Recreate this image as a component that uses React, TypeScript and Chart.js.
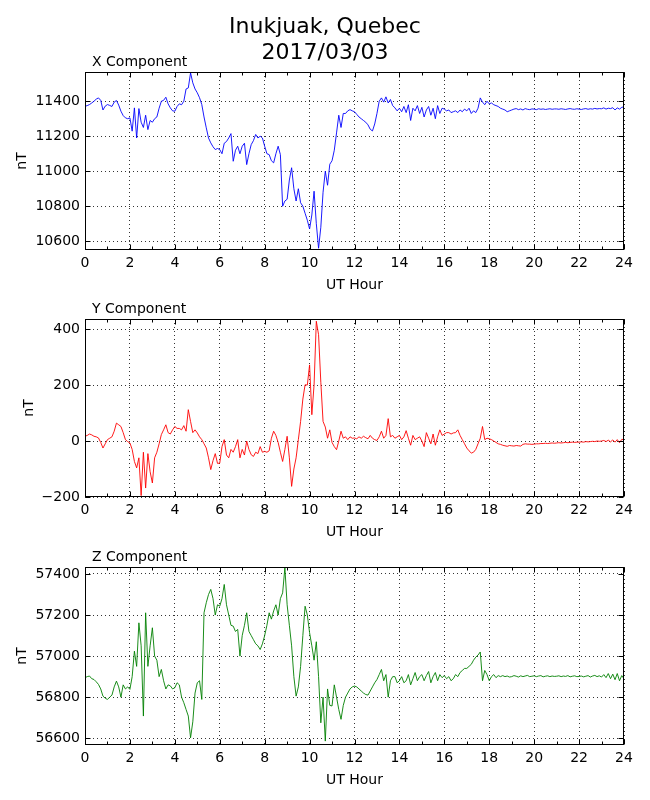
import { useEffect, useRef } from 'react';
import { Chart, registerables } from 'chart.js';

Chart.register(...registerables);
Chart.defaults.font.family = "'DejaVu Sans', sans-serif";
Chart.defaults.color = '#000';

// UT hour of each sample (6-minute steps)
const hours = [
  0, 0.1, 0.2, 0.3, 0.4, 0.5, 0.6, 0.7, 0.8, 0.9,
  1, 1.1, 1.2, 1.3, 1.4, 1.5, 1.6, 1.7, 1.8, 1.9,
  2, 2.1, 2.2, 2.3, 2.4, 2.5, 2.6, 2.7, 2.8, 2.9,
  3, 3.1, 3.2, 3.3, 3.4, 3.5, 3.6, 3.7, 3.8, 3.9,
  4, 4.1, 4.2, 4.3, 4.4, 4.5, 4.6, 4.7, 4.8, 4.9,
  5, 5.1, 5.2, 5.3, 5.4, 5.5, 5.6, 5.7, 5.8, 5.9,
  6, 6.1, 6.2, 6.3, 6.4, 6.5, 6.6, 6.7, 6.8, 6.9,
  7, 7.1, 7.2, 7.3, 7.4, 7.5, 7.6, 7.7, 7.8, 7.9,
  8, 8.1, 8.2, 8.3, 8.4, 8.5, 8.6, 8.7, 8.8, 8.9,
  9, 9.1, 9.2, 9.3, 9.4, 9.5, 9.6, 9.7, 9.8, 9.9,
  10, 10.1, 10.2, 10.3, 10.4, 10.5, 10.6, 10.7, 10.8, 10.9,
  11, 11.1, 11.2, 11.3, 11.4, 11.5, 11.6, 11.7, 11.8, 11.9,
  12, 12.1, 12.2, 12.3, 12.4, 12.5, 12.6, 12.7, 12.8, 12.9,
  13, 13.1, 13.2, 13.3, 13.4, 13.5, 13.6, 13.7, 13.8, 13.9,
  14, 14.1, 14.2, 14.3, 14.4, 14.5, 14.6, 14.7, 14.8, 14.9,
  15, 15.1, 15.2, 15.3, 15.4, 15.5, 15.6, 15.7, 15.8, 15.9,
  16, 16.1, 16.2, 16.3, 16.4, 16.5, 16.6, 16.7, 16.8, 16.9,
  17, 17.1, 17.2, 17.3, 17.4, 17.5, 17.6, 17.7, 17.8, 17.9,
  18, 18.1, 18.2, 18.3, 18.4, 18.5, 18.6, 18.7, 18.8, 18.9,
  19, 19.1, 19.2, 19.3, 19.4, 19.5, 19.6, 19.7, 19.8, 19.9,
  20, 20.1, 20.2, 20.3, 20.4, 20.5, 20.6, 20.7, 20.8, 20.9,
  21, 21.1, 21.2, 21.3, 21.4, 21.5, 21.6, 21.7, 21.8, 21.9,
  22, 22.1, 22.2, 22.3, 22.4, 22.5, 22.6, 22.7, 22.8, 22.9,
  23, 23.1, 23.2, 23.3, 23.4, 23.5, 23.6, 23.7, 23.8, 23.9,
  24,
];

const xComponent = [
  11371, 11375, 11381, 11390, 11400, 11412, 11419, 11405, 11350, 11372,
  11381, 11376, 11370, 11395, 11404, 11378, 11343, 11318, 11305, 11300,
  11305, 11229, 11362, 11190, 11358, 11280, 11250, 11320, 11238, 11290,
  11280, 11300, 11310, 11360, 11400, 11405, 11423, 11385, 11362, 11345,
  11343, 11370, 11385, 11380, 11400, 11470, 11476, 11562, 11505, 11470,
  11448, 11420, 11381, 11310, 11248, 11190, 11162, 11140, 11124, 11130,
  11124, 11100, 11160, 11170, 11190, 11215, 11057, 11120, 11143, 11100,
  11143, 11160, 11038, 11100, 11152, 11175, 11210, 11190, 11200, 11190,
  11143, 11100, 11095, 11060, 11048, 11100, 11143, 11095, 10800, 10830,
  10840, 10950, 11020, 10900, 10830, 10900, 10820, 10800, 10760, 10720,
  10670, 10750, 10886, 10700, 10560, 10680, 10880, 11000, 10920, 11040,
  11060, 11120, 11219, 11320, 11250, 11330, 11330, 11345, 11352, 11345,
  11340, 11325, 11310, 11300, 11290, 11280, 11265, 11240, 11230, 11270,
  11330, 11400, 11419, 11395, 11425, 11390, 11410, 11375, 11362, 11345,
  11360, 11340, 11370, 11335, 11380, 11290, 11360, 11345, 11375, 11330,
  11365, 11310, 11350, 11370, 11320, 11360, 11300, 11375, 11330, 11360,
  11355, 11345, 11350, 11335, 11340, 11345, 11335, 11350, 11340, 11355,
  11345, 11360, 11330, 11345, 11335, 11360, 11419, 11395, 11380, 11400,
  11385, 11390, 11380, 11375, 11370, 11360, 11355, 11350, 11340, 11345,
  11350, 11355, 11358, 11352, 11356, 11350, 11358, 11354, 11352, 11356,
  11355, 11352, 11357, 11354, 11356, 11353, 11355, 11357, 11354, 11356,
  11356, 11354, 11357, 11355, 11353, 11356, 11358, 11355, 11354, 11357,
  11355, 11353, 11356, 11358, 11354, 11357, 11355, 11359, 11356, 11358,
  11357, 11362, 11355, 11360, 11358, 11363, 11350, 11362, 11355, 11365,
  11368,
];

const yComponent = [
  17, 20, 25, 22, 17, 15, 11, -5, -25, -10,
  5, 10, 15, 35, 64, 58, 52, 30, 5, -2,
  -7, -30, -73, -96, -60, -195, -40, -168, -45, -110,
  -150, -60, -40, -10, 23, 40, 58, 30, 25, 40,
  52, 45, 45, 40, 55, 35, 112, 70, 30, 40,
  29, 15, 5, -10, -25, -60, -102, -70, -45, -80,
  -79, -20, 5, -50, -60, -30, -40, -20, 5, -60,
  -30, -50, 0, -30, -49, -55, -40, -45, -20, -40,
  -37, -40, -35, 10, 35, 20, -5, -40, -73, -30,
  17, -60, -162, -100, -60, 5, 70, 150, 201, 200,
  272, 94, 200, 428, 380, 210, 70, 50, 10, 40,
  -5, -20, -31, 0, 35, 10, 15, 5, 15, 10,
  11, 8, 15, 10, 17, 12, 8, 20, 10, 5,
  2, 15, 35, 10, 20, 80, 15, 20, 10, 15,
  20, 5, 15, 37, 10, -15, 20, 5, 10, 15,
  0, -20, 30, 10, -10, 25, -15, 15, 40, 20,
  25, 30, 30, 25, 29, 30, 40, 20, 5, -10,
  -25, -35, -43, -40, -30, -10, 10, 52, 5, 10,
  8, 5, 0, -5, -10, -12, -15, -17, -19, -16,
  -17, -18, -16, -17, -18, -12, -10, -11, -11, -12,
  -11, -10, -10, -9, -9, -8, -9, -8, -7, -8,
  -7, -6, -7, -6, -5, -6, -5, -4, -5, -4,
  -4, -3, -4, -2, -3, -2, -1, -2, 0, -1,
  0, 2, -2, 3, -3, 4, -4, 5, -6, 6,
  5,
];

const zComponent = [
  56895, 56900, 56903, 56890, 56886, 56875, 56862, 56840, 56805, 56795,
  56789, 56800, 56810, 56850, 56878, 56850, 56800, 56860, 56840, 56850,
  56838, 56900, 57024, 56950, 57162, 57050, 56708, 57211, 56950, 57050,
  57138, 57000, 56980, 56900, 56935, 56880, 56840, 56860, 56855, 56840,
  56846, 56870, 56860, 56800, 56773, 56740, 56708, 56602, 56680, 56820,
  56870, 56880, 56789, 57211, 57260, 57300, 57325, 57280, 57200, 57250,
  57243, 57280, 57349, 57250, 57200, 57150, 57146, 57120, 57130, 57000,
  57100, 57150, 57211, 57120, 57100, 57080, 57060, 57050, 57032, 57060,
  57100, 57150, 57211, 57180, 57220, 57250, 57200, 57280, 57308, 57430,
  57250, 57150, 57050, 56900, 56805, 56850, 56950, 57100, 57243, 57200,
  57114, 57050, 56980, 57070, 56900, 56675, 56800, 56586, 56840, 56760,
  56757, 56860, 56800, 56740, 56692, 56760, 56800, 56820, 56840, 56850,
  56854, 56850, 56840, 56830, 56820, 56813, 56810, 56830, 56850, 56870,
  56886, 56910, 56935, 56880, 56910, 56800, 56880, 56900, 56900, 56870,
  56880, 56900, 56870, 56880, 56910, 56860, 56890, 56920, 56880, 56900,
  56910, 56880, 56905, 56925, 56870, 56900, 56920, 56880, 56910, 56895,
  56905, 56890, 56900, 56880, 56890, 56910, 56900, 56920, 56930, 56940,
  56940, 56950, 56960, 56980, 56995, 57005, 57020, 56880, 56930, 56910,
  56880, 56900, 56910, 56895, 56905, 56900, 56905, 56900, 56903, 56898,
  56900, 56905, 56902, 56898, 56904, 56900, 56903, 56906, 56900, 56902,
  56904, 56900, 56903, 56905, 56899, 56902, 56904, 56900, 56903, 56901,
  56902, 56904, 56900, 56903, 56901, 56905, 56899, 56902, 56904, 56900,
  56901, 56903, 56899, 56902, 56905, 56898, 56903, 56906, 56900, 56904,
  56898, 56910, 56895, 56915, 56890, 56912, 56885, 56915, 56880, 56905,
  56890,
];

const hourTicks = [0, 2, 4, 6, 8, 10, 12, 14, 16, 18, 20, 22, 24];
const hourMinorTicks = [1, 3, 5, 7, 9, 11, 13, 15, 17, 19, 21, 23];
const xTicks = [10600, 10800, 11000, 11200, 11400];
const yTicks = [-200, 0, 200, 400];
const zTicks = [56600, 56800, 57000, 57200, 57400];

// axis limits (min / max of each trace)
const xLimits = [10550, 11567];
const yLimits = [-200, 436];
const zLimits = [56567, 57434];

const AREA_LEFT = 85;
const AREA_RIGHT = 624;
const AREA_HEIGHT = 178;
const HEAD = 30;
const FOOT = 50;
const TEXT = "'DejaVu Sans', sans-serif";

// box around the plot, inward tick marks, small panel title
const framePlugin = {
  id: 'frame',
  afterDraw(chart: any, _args: any, opts: any) {
    const { ctx, chartArea: a, scales } = chart;
    ctx.save();
    ctx.strokeStyle = '#000';
    ctx.lineWidth = 1;
    const l = Math.round(a.left) + 0.5;
    const t = Math.round(a.top) + 0.5;
    const r = Math.round(a.right) - 0.5;
    const b = Math.round(a.bottom) - 0.5;
    ctx.strokeRect(l, t, r - l, b - t);
    ctx.beginPath();
    const tickX = (vals: number[], len: number) => {
      vals.forEach((v) => {
        const px = Math.round(scales.x.getPixelForValue(v)) + 0.5;
        ctx.moveTo(px, b);
        ctx.lineTo(px, b - len);
        ctx.moveTo(px, t);
        ctx.lineTo(px, t + len);
      });
    };
    tickX(hourTicks, 5);
    tickX(hourMinorTicks, 3);
    (opts.ticks as number[]).forEach((v) => {
      const py = Math.round(scales.y.getPixelForValue(v)) + 0.5;
      ctx.moveTo(l, py);
      ctx.lineTo(l + 5, py);
      ctx.moveTo(r, py);
      ctx.lineTo(r - 5, py);
    });
    ctx.stroke();
    ctx.fillStyle = '#000';
    ctx.font = `14px ${TEXT}`;
    ctx.textAlign = 'left';
    ctx.textBaseline = 'alphabetic';
    ctx.fillText(opts.title, a.left + 7, a.top - 6);
    ctx.restore();
  },
};

interface PanelProps {
  title: string;
  values: number[];
  color: string;
  ticks: number[];
  limits: number[];
  top: number;
  labelPad: number;
}

function Panel({ title, values, color, ticks, limits, top, labelPad }: PanelProps) {
  const canvasRef = useRef<HTMLCanvasElement>(null);

  useEffect(() => {
    if (!canvasRef.current) return;
    const chart = new Chart(canvasRef.current, {
      type: 'line',
      data: {
        datasets: [
          {
            data: hours.map((h, i) => ({ x: h, y: values[i] })),
            borderColor: color,
            borderWidth: 0.9,
            pointRadius: 0,
            tension: 0,
            fill: false,
          },
        ],
      },
      plugins: [framePlugin],
      options: {
        animation: false,
        responsive: false,
        layout: { padding: { top: HEAD, right: 650 - AREA_RIGHT, left: 0, bottom: 0 } },
        plugins: {
          legend: { display: false },
          tooltip: { enabled: false },
          frame: { title, ticks },
        } as any,
        scales: {
          x: {
            type: 'linear',
            min: 0,
            max: 24,
            afterBuildTicks: (s: any) => {
              s.ticks = hourTicks.map((v) => ({ value: v }));
            },
            afterFit: (s: any) => {
              s.height = FOOT;
            },
            grid: { color: '#000', lineWidth: 0.8, drawTicks: false },
            border: { display: false, dash: [1, 3] },
            ticks: { padding: 5, font: { size: 14 }, color: '#000', maxRotation: 0 },
            title: {
              display: true,
              text: 'UT Hour',
              font: { size: 14 },
              color: '#000',
              padding: { top: 0, bottom: 6 },
            },
          },
          y: {
            type: 'linear',
            min: limits[0],
            max: limits[1],
            afterBuildTicks: (s: any) => {
              s.ticks = ticks.map((v) => ({ value: v }));
            },
            afterFit: (s: any) => {
              s.width = AREA_LEFT;
            },
            grid: { color: '#000', lineWidth: 0.8, drawTicks: false },
            border: { display: false, dash: [1, 3] },
            ticks: { padding: 5, font: { size: 14 }, color: '#000', callback: (v: any) => String(v).replace('-', '\u2212') },
            title: {
              display: true,
              text: 'nT',
              font: { size: 14 },
              color: '#000',
              padding: { top: labelPad, bottom: 0 },
            },
          },
        },
      },
    });
    return () => chart.destroy();
  }, [title, values, color, ticks, limits, labelPad]);

  const h = HEAD + AREA_HEIGHT + FOOT;
  return (
    <canvas
      ref={canvasRef}
      width={650}
      height={h}
      style={{ position: 'absolute', left: 0, top: top - HEAD, width: 650, height: h }}
    />
  );
}

export default function App() {
  return (
    <div
      style={{
        position: 'absolute',
        left: 0,
        top: 0,
        width: 650,
        height: 800,
        background: '#fff',
        fontFamily: TEXT,
        overflow: 'hidden',
      }}
    >
      <Panel title="X Component" values={xComponent} color="#0000ff" ticks={xTicks} limits={xLimits} top={72} labelPad={14} />
      <Panel title="Y Component" values={yComponent} color="#ff0000" ticks={yTicks} limits={yLimits} top={319} labelPad={21} />
      <Panel title="Z Component" values={zComponent} color="#008000" ticks={zTicks} limits={zLimits} top={567} labelPad={14} />
      <div
        style={{
          position: 'absolute',
          top: 13,
          left: 0,
          width: 650,
          textAlign: 'center',
          fontSize: 22,
          lineHeight: '26px',
          color: '#000',
          zIndex: 2,
        }}
      >
        Inukjuak, Quebec
        <br />
        2017/03/03
      </div>
    </div>
  );
}
